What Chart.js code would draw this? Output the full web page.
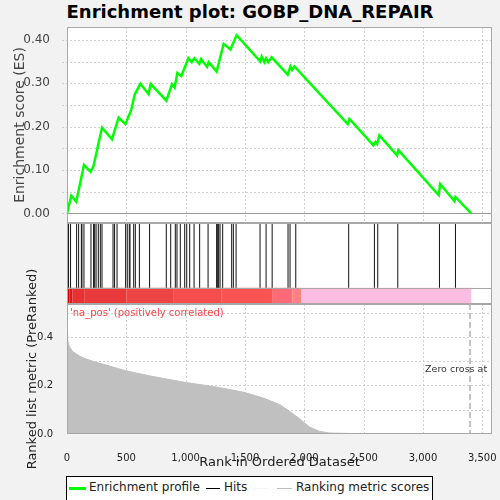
<!DOCTYPE html>
<html>
<head>
<meta charset="utf-8">
<script src="https://cdn.jsdelivr.net/npm/chart.js@4.4.1/dist/chart.umd.min.js"></script>
<style>
  body { margin: 0; background: #f2f2f2; font-family: "DejaVu Sans", sans-serif; }
  #wrap { position: relative; width: 500px; height: 500px; overflow: hidden; }
  #gsea { position: absolute; left: 0; top: 27px; }
  #title { position: absolute; left: 0; top: 0; width: 500px; text-align: center;
           font: bold 18px "DejaVu Sans"; line-height: 24px; color: #000; }
  #legend { position: absolute; left: 66px; top: 476px; width: 367px; height: 26px;
            background: #fff; border: 1px solid #000; box-sizing: border-box; }
  #legend span { position: absolute; top: 3px; font: 12px "DejaVu Sans"; color: #222; white-space: nowrap; }
  #legend i { position: absolute; display: block; }
</style>
</head>
<body>
<div id="wrap">
  <div id="title">Enrichment plot: GOBP_DNA_REPAIR</div>
  <canvas id="gsea" width="500" height="443"></canvas>
  <div id="legend">
    <i style="left:2px;top:10px;width:17px;height:3px;background:#00ff00"></i>
    <span style="left:22px">Enrichment profile</span>
    <i style="left:139px;top:11px;width:14px;height:1px;background:#000"></i>
    <span style="left:157px">Hits</span>
    <i style="left:187px;top:11px;width:14px;height:1px;background:#f4f4f4"></i>
    <i style="left:210px;top:11px;width:15px;height:1px;background:#c0c0c0"></i>
    <span style="left:229px">Ranking metric scores</span>
  </div>
</div>
<script>
// running enrichment score (rank, ES)
const esRank = [0, 36, 78, 143, 199, 224, 295, 379, 435, 492, 542, 570, 618, 688, 705,
  837, 885, 907, 930, 964, 1023, 1051, 1073, 1116, 1130, 1180, 1194, 1261, 1320, 1377,
  1430, 1630, 1641, 1664, 1678, 1697, 1725, 1860, 1883, 1897, 1917, 2366, 2380, 2583,
  2600, 2614, 2633, 2782, 2793, 3133, 3145, 3266, 3274, 3406];
const esValue = [0, 0.041, 0.027, 0.112, 0.096, 0.110, 0.198, 0.171, 0.221, 0.206, 0.239,
  0.274, 0.299, 0.275, 0.299, 0.260, 0.298, 0.290, 0.324, 0.317, 0.358, 0.349, 0.358,
  0.345, 0.356, 0.338, 0.349, 0.327, 0.391, 0.378, 0.411, 0.350, 0.362, 0.349, 0.358,
  0.349, 0.360, 0.320, 0.339, 0.331, 0.339, 0.206, 0.218, 0.157, 0.165, 0.160, 0.180,
  0.134, 0.146, 0.042, 0.068, 0.028, 0.038, 0];

// ranks of gene set members
const hitRanks = [0, 13, 30, 81, 98, 121, 126, 143, 202, 224, 233, 245, 264, 281, 295,
  388, 401, 422, 494, 508, 525, 531, 562, 576, 610, 696, 837, 874, 913, 927, 955, 992,
  1009, 1034, 1071, 1118, 1189, 1261, 1270, 1278, 1290, 1312, 1388, 1402, 1425, 1627,
  1678, 1729, 1863, 1880, 1928, 2374, 2591, 2619, 2788, 3139, 3274];

// ranked list metric (rank, score)
const metricRank = [0, 5, 10, 20, 47, 104, 160, 273, 495, 694, 992, 1256, 1490, 1650,
  1791, 1875, 1960, 2043, 2128, 2212, 2521, 3392, 3406];
const metricValue = [0.415, 0.395, 0.375, 0.36, 0.34, 0.322, 0.309, 0.292, 0.261, 0.240,
  0.213, 0.194, 0.172, 0.149, 0.122, 0.094, 0.063, 0.029, 0.011, 0.004, 0.001, 0, 0];

// colour band under the hits
const bandStops = [0, 20, 45, 150, 500, 900, 1300, 1734, 1900, 1973, 3406];
const bandColors = ['#d60000', '#e01818', '#e63232', '#e83a3a', '#ec4343', '#f54c4c',
  '#ff5353', '#ff6a78', '#ff8080', '#ffbde2'];

const xTicks = [0, 500, 1000, 1500, 2000, 2500, 3000, 3500];
const esTicks = [0, 0.05, 0.10, 0.15, 0.20, 0.25, 0.30, 0.35, 0.40];
const metricTicks = [0, 0.1, 0.2, 0.3, 0.4, 0.5];
const zeroCross = 3397;

const X_MAX = 3582;
const GRID = '#d0d0d0';
const FRAME = '#a8a8a8';

const fitLeft = s => { s.width = 67; s.paddingTop = 0; s.paddingBottom = 0; };

// white panels, dashed grids and the colour band, under the data
const panels = {
  id: 'panels',
  beforeDatasetsDraw(chart) {
    const c = chart.ctx, a = chart.chartArea, xs = chart.scales.x;
    const yEs = chart.scales.y, yHit = chart.scales.yh, yMet = chart.scales.ym;
    c.save();
    c.fillStyle = '#fff';
    [yEs, yHit, yMet].forEach(s => c.fillRect(a.left, s.top, a.right - a.left, s.bottom - s.top));

    const grid = (s, ticks, tickLen) => {
      c.beginPath();
      xTicks.forEach(v => {
        const x = Math.round(xs.getPixelForValue(v)) + 0.5;
        if (x > a.left + 1 && x < a.right - 1) { c.moveTo(x, s.top); c.lineTo(x, s.bottom); }
      });
      ticks.forEach(v => {
        const y = Math.round(s.getPixelForValue(v)) + 0.5;
        if (y > s.top + 1 && y < s.bottom - 1) { c.moveTo(a.left - tickLen, y); c.lineTo(a.right, y); }
      });
      c.stroke();
    };
    c.lineWidth = 1;
    c.strokeStyle = GRID;
    c.setLineDash([2, 2]);
    grid(yEs, esTicks, 5);
    grid(yMet, metricTicks, 0);
    c.setLineDash([]);
    const y0 = Math.round(yEs.getPixelForValue(0)) + 0.5;
    c.strokeStyle = '#999';
    c.beginPath(); c.moveTo(a.left, y0); c.lineTo(a.right, y0); c.stroke();

    const bTop = yHit.getPixelForValue(0.2), bBot = yHit.getPixelForValue(0);
    for (let i = 0; i < bandColors.length; i++) {
      const x0 = xs.getPixelForValue(bandStops[i]), x1 = xs.getPixelForValue(bandStops[i + 1]);
      c.fillStyle = bandColors[i];
      c.fillRect(x0, bTop, x1 - x0, bBot - bTop);
    }
    c.restore();
  },
  afterDatasetsDraw(chart) {
    const c = chart.ctx, a = chart.chartArea, xs = chart.scales.x;
    const yEs = chart.scales.y, yHit = chart.scales.yh, yMet = chart.scales.ym;
    c.save();
    c.strokeStyle = FRAME; c.lineWidth = 1;
    [yEs, yHit, yMet].forEach(s => c.strokeRect(Math.round(a.left) + 0.5, Math.round(s.top) + 0.5,
      Math.round(a.right - a.left) - 1, Math.round(s.bottom - s.top) - 1));
    const bTop = Math.round(yHit.getPixelForValue(0.2)) + 0.5;
    c.beginPath(); c.moveTo(a.left, bTop); c.lineTo(a.right, bTop); c.stroke();

    const xz = xs.getPixelForValue(zeroCross);
    c.strokeStyle = '#b0b0b0'; c.lineWidth = 1.5; c.setLineDash([6, 3]);
    c.beginPath(); c.moveTo(xz, yMet.top); c.lineTo(xz, yMet.bottom); c.stroke();
    c.setLineDash([]);
    c.textBaseline = 'middle';
    c.fillStyle = '#ff4444'; c.font = '10px "DejaVu Sans"';
    c.fillText("'na_pos' (positively correlated)", a.left + 3, yMet.top + 9);
    c.fillStyle = '#333'; c.font = '9.5px "DejaVu Sans"';
    c.fillText('Zero cross at', xz - 45, yMet.getPixelForValue(0.265));
    c.restore();
  }
};

const hitData = [];
hitRanks.forEach(r => { hitData.push({ x: r, y: 0.2 }, { x: r, y: 1 }, { x: r, y: null }); });

const chart = new Chart(document.getElementById('gsea'), {
  type: 'line',
  data: {
    datasets: [{
      label: 'Enrichment profile', yAxisID: 'y',
      data: esRank.map((r, i) => ({ x: r, y: esValue[i] })),
      borderColor: '#00ff00', borderWidth: 2.5, pointRadius: 0, tension: 0
    }, {
      label: 'Hits', yAxisID: 'yh',
      data: hitData, borderColor: '#111', borderWidth: 1, pointRadius: 0, spanGaps: false
    }, {
      label: 'Ranking metric scores', yAxisID: 'ym',
      data: metricRank.map((r, i) => ({ x: r, y: metricValue[i] })),
      borderColor: '#c0c0c0', borderWidth: 1, backgroundColor: '#c0c0c0',
      fill: 'origin', pointRadius: 0, tension: 0
    }]
  },
  options: {
    responsive: false, animation: false,
    layout: { autoPadding: false, padding: { left: 0, right: 8, top: 0, bottom: 0 } },
    plugins: { legend: { display: false }, tooltip: { enabled: false } },
    scales: {
      x: {
        type: 'linear', min: 0, max: X_MAX,
        afterBuildTicks: s => { s.ticks = xTicks.map(v => ({ value: v })); },
        afterFit: s => { s.height = 36; s.paddingLeft = 0; s.paddingRight = 0; },
        grid: { display: false },
        border: { display: false },
        ticks: { color: '#222', font: { size: 10, family: 'DejaVu Sans' }, padding: 10,
                 callback: v => v.toLocaleString('en-US') },
        title: { display: true, text: 'Rank in Ordered Dataset', color: '#222',
                 font: { size: 13, family: 'DejaVu Sans' }, padding: { top: 0, bottom: 0 } }
      },
      y: {
        position: 'left', stack: 'panels', stackWeight: 196, weight: 3,
        min: -0.022, max: 0.43,
        afterBuildTicks: s => { s.ticks = esTicks.map(v => ({ value: v })); },
        afterFit: fitLeft,
        grid: { display: false },
        border: { display: false },
        ticks: { color: '#444', font: { size: 12, family: 'DejaVu Sans' }, padding: 9,
                 callback: v => v.toFixed(2) },
        title: { display: true, text: 'Enrichment score (ES)', color: '#444',
                 font: { size: 14, family: 'DejaVu Sans' }, padding: { top: 12, bottom: 0 } }
      },
      yh: {
        position: 'left', stack: 'panels', stackWeight: 81, weight: 2,
        min: 0, max: 1,
        afterFit: fitLeft,
        grid: { display: false },
        border: { display: false },
        ticks: { display: false }
      },
      ym: {
        position: 'left', stack: 'panels', stackWeight: 130, weight: 1,
        min: 0, max: 0.536,
        afterBuildTicks: s => { s.ticks = metricTicks.map(v => ({ value: v })); },
        afterFit: fitLeft,
        grid: { display: false },
        border: { display: false },
        ticks: { color: '#222', font: { size: 10, family: 'DejaVu Sans' }, padding: 6,
                 callback: v => v.toFixed(1) },
        title: { display: true, text: 'Ranked list metric (PreRanked)', color: '#222',
                 font: { size: 13, family: 'DejaVu Sans' }, padding: { top: 25, bottom: 0 } }
      }
    }
  },
  plugins: [panels]
});

// keep the enrichment panel on top and the metric panel at the bottom
if (chart.scales.y.top > chart.scales.ym.top) {
  chart.options.scales.y.weight = 1;
  chart.options.scales.ym.weight = 3;
  chart.update();
}
</script>
</body>
</html>
